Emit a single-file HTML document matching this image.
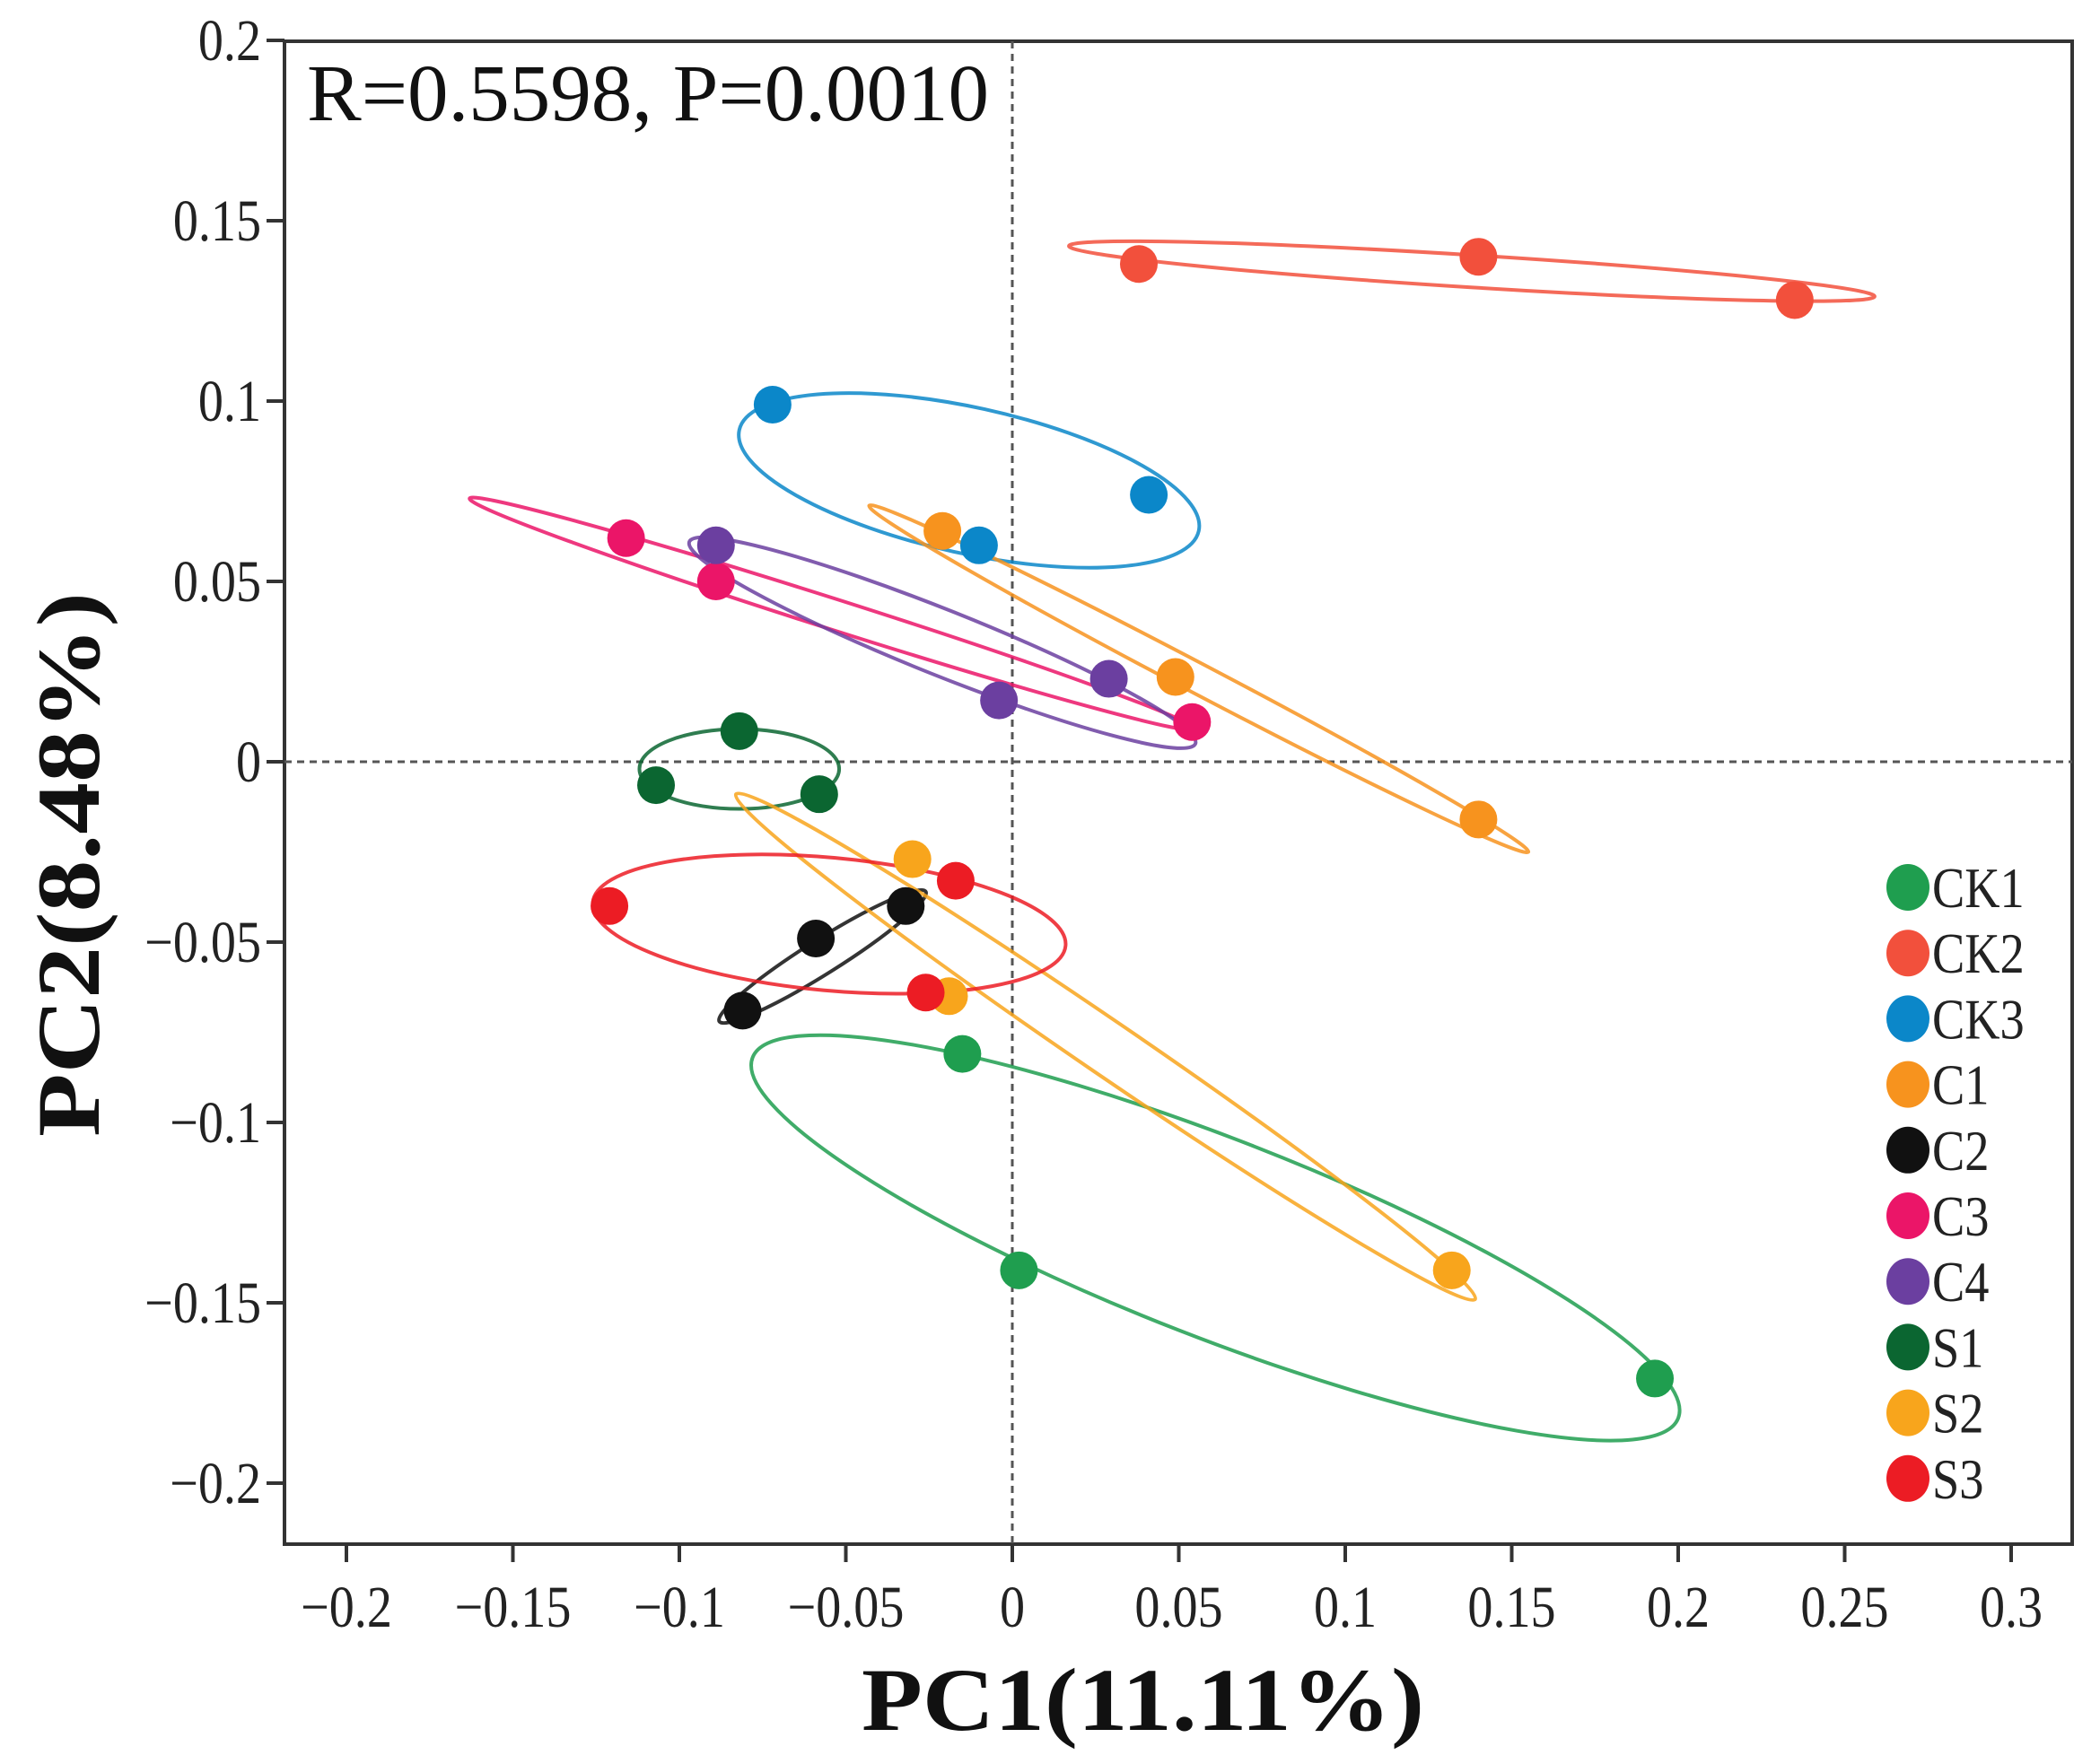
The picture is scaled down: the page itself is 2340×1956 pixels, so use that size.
<!DOCTYPE html>
<html><head><meta charset="utf-8"><style>
html,body{margin:0;padding:0;background:#fff;}
svg{display:block;font-family:"Liberation Serif",serif;}
</style></head><body>
<svg id="chart" width="2340" height="1956" viewBox="0 0 2340 1956" xmlns="http://www.w3.org/2000/svg"></svg>
<script>
const groups=["CK1","CK2","CK3","C1","C2","C3","C4","S1","S2","S3"];
const colors=["#1f9e4f","#f2503c","#0b87c9","#f7931e","#111111","#eb1568","#6b3fa0","#0b6631","#f8a51c","#ec1c24"];
const ptsX=[[-0.015,0.002,0.193],[0.038,0.140,0.235],[-0.072,0.041,-0.010],[-0.021,0.049,0.140],[-0.081,-0.059,-0.032],[-0.116,-0.089,0.054],[-0.089,-0.004,0.029],[-0.082,-0.107,-0.058],[-0.030,-0.019,0.132],[-0.121,-0.017,-0.026]];
const ptsY=[[-0.081,-0.141,-0.171],[0.138,0.140,0.128],[0.099,0.074,0.060],[0.064,0.0235,-0.016],[-0.069,-0.049,-0.040],[0.062,0.050,0.011],[0.060,0.017,0.023],[0.0085,-0.0065,-0.009],[-0.027,-0.065,-0.141],[-0.040,-0.033,-0.064]];
const ellCX=[0.061,0.138,-0.013,0.056,-0.057,-0.054,-0.021,-0.082,0.028,-0.055];
const ellCY=[-0.132,0.136,0.078,0.023,-0.054,0.041,0.033,-0.002,-0.079,-0.045];
const ellEX=[0.200,0.259,0.056,0.155,-0.026,0.055,0.055,-0.052,0.139,0.016];
const ellEY=[-0.182,0.129,0.064,-0.025,-0.036,0.009,0.005,-0.002,-0.149,-0.051];
const ellRatio=[0.20,0.04,0.31,0.04,0.14,0.04,0.12,0.40,0.06,0.28];
const xTicks=[-0.2,-0.15,-0.1,-0.05,0,0.05,0.1,0.15,0.2,0.25,0.3];
const xTickLabels=["\u22120.2","\u22120.15","\u22120.1","\u22120.05","0","0.05","0.1","0.15","0.2","0.25","0.3"];
const yTicks=[0.2,0.15,0.1,0.05,0,-0.05,-0.1,-0.15,-0.2];
const yTickLabels=["0.2","0.15","0.1","0.05","0","\u22120.05","\u22120.1","\u22120.15","\u22120.2"];

const L=317,R=2309,T=46,B=1721;
const X=v=>1128+v*3710;
const Y=v=>849-v*4020;
const NS="http://www.w3.org/2000/svg";
const svg=document.getElementById('chart');
function mk(tag,attrs,parent){const e=document.createElementNS(NS,tag);for(const k in attrs)e.setAttribute(k,attrs[k]);(parent||svg).appendChild(e);return e;}

const frame=mk('rect',{x:L,y:T,width:R-L,height:B-T,fill:'none',stroke:'#333',"stroke-width":4});


const vz=mk('line',{x1:X(0),x2:X(0),y1:T,y2:B,stroke:'#555',"stroke-width":3,"stroke-dasharray":"8,6"});


const hz=mk('line',{x1:L,x2:R,y1:Y(0),y2:Y(0),stroke:'#555',"stroke-width":3,"stroke-dasharray":"8,6"});



xTicks.forEach((v,i)=>{
  const t=mk('line',{x1:X(v),x2:X(v),y1:B,y2:B+20,stroke:'#333',"stroke-width":4});
  
  
  const tx=mk('text',{x:0,y:0,"text-anchor":"middle","font-size":66,fill:'#222',transform:`translate(${X(v)},${B+92}) scale(0.85,1)`});
  tx.textContent=xTickLabels[i];
  
  
});
yTicks.forEach((v,i)=>{
  const t=mk('line',{x1:L-20,x2:L,y1:Y(v),y2:Y(v),stroke:'#333',"stroke-width":4});
  
  
  const tx=mk('text',{x:0,y:0,"text-anchor":"end","font-size":66,fill:'#222',transform:`translate(${L-26},${Y(v)+22}) scale(0.85,1)`});
  tx.textContent=yTickLabels[i];
  
  
});

groups.forEach((g,i)=>{
  const cx=X(ellCX[i]),cy=Y(ellCY[i]),ex=X(ellEX[i]),ey=Y(ellEY[i]);
  const a=Math.hypot(ex-cx,ey-cy);
  const ang=Math.atan2(ey-cy,ex-cx)*180/Math.PI;
  const e=mk('ellipse',{cx:0,cy:0,rx:a,ry:a*ellRatio[i],fill:'none',stroke:colors[i],"stroke-width":4,opacity:0.85,transform:`translate(${cx},${cy}) rotate(${ang})`});
  
  
});
groups.forEach((g,i)=>{
  ptsX[i].forEach((v,j)=>{
    const c=mk('circle',{cx:X(v),cy:Y(ptsY[i][j]),r:21,fill:colors[i]});
    
    
  });
});
groups.forEach((g,i)=>{
  const y=989+i*73.2;
  const c=mk('ellipse',{cx:2126,cy:y,rx:24,ry:26,fill:colors[i]});
  
  
  const t=mk('text',{x:0,y:0,"font-size":64,fill:'#222',transform:`translate(2153,${y+22}) scale(0.85,1)`});
  t.textContent=g;
  
  
});
const ann=mk('text',{x:342,y:134,"font-size":90,fill:'#111',textLength:760,lengthAdjust:'spacingAndGlyphs'});
ann.textContent='R=0.5598, P=0.0010';


const xt=mk('text',{x:960,y:1928,"font-size":100,"font-weight":"bold",fill:'#111',textLength:627,lengthAdjust:'spacingAndGlyphs'});
xt.textContent='PC1(11.11%)';


const yt=mk('text',{x:0,y:0,"font-size":100,"font-weight":"bold",fill:'#111',textLength:607,lengthAdjust:'spacingAndGlyphs',transform:'translate(110,1267) rotate(-90)'});
yt.textContent='PC2(8.48%)';


</script>
</body></html>
